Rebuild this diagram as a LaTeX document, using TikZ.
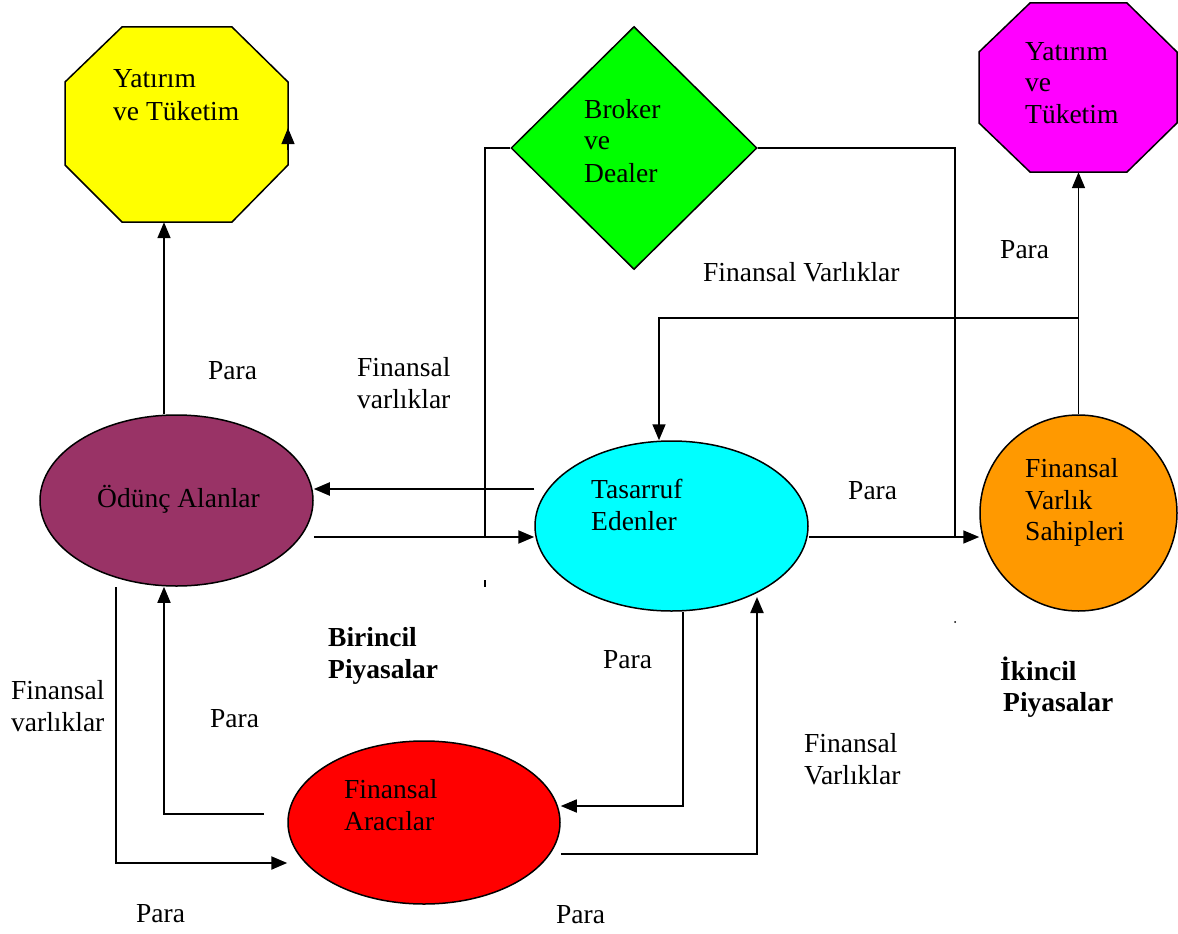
\documentclass[tikz,border=0pt]{standalone}
\usepackage{fontspec}
\setmainfont{Liberation Serif}
\usetikzlibrary{shapes.geometric,arrows.meta,calc}
\definecolor{cyellow}{HTML}{FFFF00}
\definecolor{cgreen}{HTML}{00FF00}
\definecolor{cmag}{HTML}{FF00FF}
\definecolor{cplum}{HTML}{993366}
\definecolor{ccyan}{HTML}{00FFFF}
\definecolor{corange}{HTML}{FF9900}
\definecolor{cred}{HTML}{FF0000}
\begin{document}
\begin{tikzpicture}[x=1pt,y=-1pt,
  lbl/.style={anchor=base west,inner sep=0,font=\fontsize{27.5}{32}\selectfont},
  blbl/.style={anchor=base west,inner sep=0,font=\fontsize{27.5}{32}\selectfont\bfseries},
  shp/.style={draw=black,line width=1.5pt},
  ell/.style={shp,ellipse,inner sep=0},
  tip/.style={-{Triangle[length=16pt,width=13pt]}},
  thickc/.style={line width=2.2pt},
  medc/.style={line width=1.6pt},
  thinc/.style={line width=1.1pt}]
\useasboundingbox (0,0) rectangle (1178,934);
\fill[white] (0,0) rectangle (1178,934);

% octagons
\node[inner sep=0,minimum width=223pt,minimum height=195pt] (y1) at (176.5,124.5) {};
\draw[shp,fill=cyellow] (122,27) -- (232,27) -- (288,82) -- (288,165) -- (232,222) -- (122,222) -- (65,165) -- (65,82) -- cycle;
\node[inner sep=0,minimum width=198pt,minimum height=169pt] (m1) at (1078,87.5) {};
\draw[shp,fill=cmag] (1030,3) -- (1127,3) -- (1177,52) -- (1177,123) -- (1127,172) -- (1030,172) -- (979,123) -- (979,52) -- cycle;

% diamond
\node[shp,diamond,fill=cgreen,inner sep=0,minimum width=246pt,minimum height=243pt] (bd) at (634,148) {};

% ellipses
\node[ell,fill=cplum,minimum width=273pt,minimum height=171pt] (oa) at (176.5,500.5) {};
\node[ell,fill=ccyan,minimum width=273pt,minimum height=170pt] (ts) at (671.5,526) {};
\node[ell,fill=corange,minimum width=197pt,minimum height=196pt] (fvs) at (1078.5,513) {};
\node[ell,fill=cred,minimum width=272pt,minimum height=163pt] (fa) at (424,822.5) {};

% helper coordinates
\coordinate (jr) at (1078,318);
\coordinate (faL) at (264,814);
\coordinate (oaBL) at (116,587);
\coordinate (tsBR) at (757,597);
\coordinate (ytick) at (288,128);

% connectors
\draw[medc,tip] (oa.north -| 164,0) -- (y1.south -| 164,0);
\draw[thinc,tip] (288,150) -- (ytick);
\draw[thickc,tip] (ts.west |- 0,489) -- (oa.east |- 0,489);
\draw[thickc,tip] (oa.east |- 0,537) -- (ts.west |- 0,537);
\draw[medc,tip] (ts.east |- 0,537) -- (fvs.west |- 0,537);
\draw[medc,tip] (fvs.north) -- (m1.south -| fvs.north);
\draw[medc,tip] (jr) -| (ts.north -| 659,0);
\draw[thinc] (bd.west) -| (485,537);
\draw[thinc] (bd.east) -| (955,537);
\draw[medc,tip] (faL) -| (oa.south -| 164,0);
\draw[thickc,tip] (oaBL) |- (fa.west |- 0,863);
\draw[medc,tip] (ts.south -| 683,0) |- (fa.east |- 0,806);
\draw[thickc,tip] (fa.east |- 0,854) -| (tsBR);
\draw[line width=1.5pt] (485,580) -- (485,587);
\fill (955,622) circle (1pt);

% labels
\node[lbl] (t1) at (113,88) {Yatırım};
\node[lbl] (t2) at (113,120) {ve Tüketim};
\node[lbl] (t3) at (584,118) {Broker};
\node[lbl] (t4) at (584,149) {ve};
\node[lbl] (t5) at (584,182) {Dealer};
\node[lbl] (t6) at (1025,61) {Yatırım};
\node[lbl] (t7) at (1025,92) {ve};
\node[lbl] (t8) at (1025,123) {Tüketim};
\node[lbl] (t9) at (1000,258) {Para};
\node[lbl] (t10) at (703,281) {Finansal Varlıklar};
\node[lbl] (t11) at (208,379) {Para};
\node[lbl] (t12) at (357,376) {Finansal};
\node[lbl] (t13) at (357,408) {varlıklar};
\node[lbl] (t14) at (97,507) {Ödünç Alanlar};
\node[lbl] (t15) at (591,498) {Tasarruf};
\node[lbl] (t16) at (591,530) {Edenler};
\node[lbl] (t17) at (848,499) {Para};
\node[lbl] (t18) at (1025,477) {Finansal};
\node[lbl] (t19) at (1025,509) {Varlık};
\node[lbl] (t20) at (1025,540) {Sahipleri};
\node[blbl] (t21) at (328,646) {Birincil};
\node[blbl] (t22) at (328,678) {Piyasalar};
\node[blbl] (t23) at (1000,680) {İkincil};
\node[blbl] (t24) at (1003,711) {Piyasalar};
\node[lbl] (t25) at (603,668) {Para};
\node[lbl] (t26) at (11,699) {Finansal};
\node[lbl] (t27) at (11,731) {varlıklar};
\node[lbl] (t28) at (210,727) {Para};
\node[lbl] (t29) at (344,798) {Finansal};
\node[lbl] (t30) at (344,830) {Aracılar};
\node[lbl] (t31) at (804,752) {Finansal};
\node[lbl] (t32) at (804,784) {Varlıklar};
\node[lbl] (t33) at (136,922) {Para};
\node[lbl] (t34) at (556,923) {Para};
\end{tikzpicture}
\end{document}
